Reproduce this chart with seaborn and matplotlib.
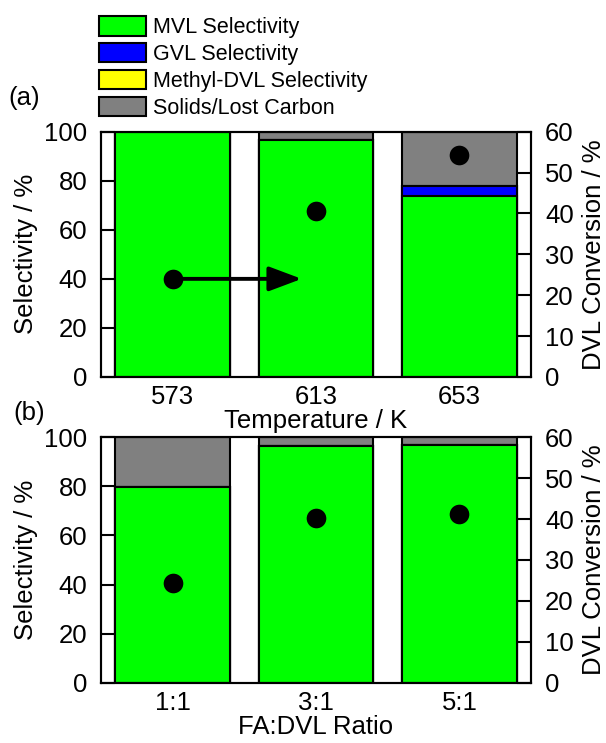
import matplotlib
matplotlib.use("Agg")
import matplotlib.pyplot as plt
from matplotlib.patches import Patch
import seaborn as sns
import pandas as pd

# panel (a): temperature series
temps = ["573", "613", "653"]
mvl_a = [100.0, 96.5, 73.9]
gvl_a = [0.0, 0.0, 4.1]
methyl_a = [0.0, 0.0, 0.0]
solids_a = [0.0, 3.5, 22.0]
conv_a = [24.0, 40.5, 54.4]

# panel (b): FA:DVL ratio series
ratios = ["1:1", "3:1", "5:1"]
mvl_b = [79.6, 96.2, 96.9]
gvl_b = [0.0, 0.0, 0.0]
methyl_b = [0.0, 0.0, 0.0]
solids_b = [20.4, 3.8, 3.1]
conv_b = [24.4, 40.2, 41.3]

labels = ["MVL Selectivity", "GVL Selectivity", "Methyl-DVL Selectivity", "Solids/Lost Carbon"]
colors = ["#00ff00", "#0000ff", "#ffff00", "#808080"]

sns.set_style("ticks")
plt.rcParams["font.family"] = ["Liberation Sans", "DejaVu Sans"]
plt.rcParams["text.color"] = "black"
plt.rcParams["axes.labelcolor"] = "black"
plt.rcParams["xtick.color"] = "black"
plt.rcParams["ytick.color"] = "black"

FS = 18.5


def panel(ax, cats, mvl, gvl, methyl, solids, conv, xlabel, arrow=False):
    layers = [mvl, gvl, methyl, solids]
    cum = []
    run = [0.0] * len(cats)
    for lay in layers:
        run = [r + v for r, v in zip(run, lay)]
        cum.append(run)
    # draw from the top layer down so lower segments overlay
    for i in [3, 2, 1, 0]:
        df = pd.DataFrame({"cond": cats, "val": cum[i]})
        sns.barplot(data=df, x="cond", y="val", order=cats, color=colors[i],
                    saturation=1, width=0.8, edgecolor="black", linewidth=1.5, ax=ax)
    ax.set_ylim(0, 100)
    ax.set_xlim(-0.5, len(cats) - 0.5)
    ax.set_yticks([0, 20, 40, 60, 80, 100])
    ax.set_xlabel(xlabel, fontsize=FS, labelpad=0)
    ax.set_ylabel("Selectivity / %", fontsize=FS, labelpad=4)
    ax.tick_params(axis="y", direction="in", length=10, width=1.5, labelsize=FS, pad=10,
                   left=True, right=False)
    ax.tick_params(axis="x", direction="in", length=10, width=1.5, labelsize=FS, pad=6,
                   bottom=True, top=False)

    ax2 = ax.twinx()
    sns.scatterplot(x=list(range(len(cats))), y=conv, ax=ax2, color="black", s=200,
                    edgecolor="black", linewidth=0, zorder=5, legend=False)
    ax2.set_ylim(0, 60)
    ax2.set_xlim(-0.5, len(cats) - 0.5)
    ax2.set_yticks([0, 10, 20, 30, 40, 50, 60])
    ax2.set_ylabel("DVL Conversion / %", fontsize=FS, labelpad=6)
    ax2.tick_params(axis="y", direction="in", length=10, width=1.5, labelsize=FS, pad=10)
    if arrow:
        ax2.annotate("", xy=(0.9, conv[0]), xytext=(0, conv[0]),
                     arrowprops=dict(arrowstyle="-|>,head_length=0.8,head_width=0.3",
                                     mutation_scale=25, lw=2.8, color="black",
                                     shrinkA=0, shrinkB=0))
    for a in (ax, ax2):
        for sp in a.spines.values():
            sp.set_linewidth(1.5)
            sp.set_color("black")
            sp.set_visible(True)


fig = plt.figure(figsize=(6.06, 7.43), dpi=100)
ax_a = fig.add_axes([0.1667, 0.4926, 0.7096, 0.3302])
ax_b = fig.add_axes([0.1667, 0.0808, 0.7096, 0.3310])

panel(ax_a, temps, mvl_a, gvl_a, methyl_a, solids_a, conv_a, "Temperature / K", arrow=True)
panel(ax_b, ratios, mvl_b, gvl_b, methyl_b, solids_b, conv_b, "FA:DVL Ratio")

handles = [Patch(facecolor=c, edgecolor="black", linewidth=1.5) for c in colors]
fig.legend(handles, labels, loc="upper left", bbox_to_anchor=(0.163, 0.978),
           frameon=False, fontsize=15.5, handlelength=2.2, handleheight=1.0,
           labelspacing=0.22, handletextpad=0.3, borderpad=0, borderaxespad=0)

fig.text(0.013, 0.868, "(a)", fontsize=FS, va="center", ha="left")
fig.text(0.022, 0.444, "(b)", fontsize=FS, va="center", ha="left")

fig.savefig("out.png", dpi=100)
